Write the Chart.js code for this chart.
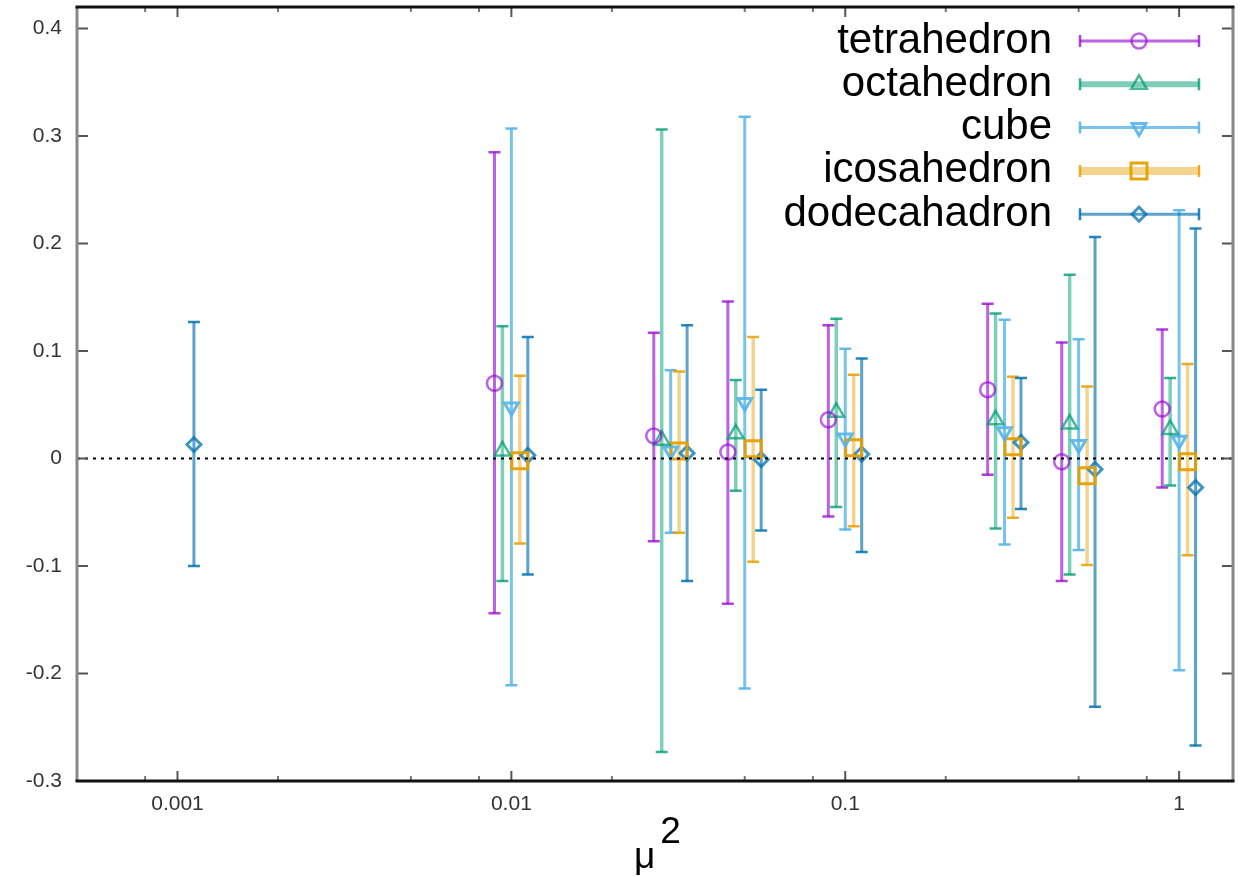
<!DOCTYPE html>
<html><head><meta charset="utf-8">
<script src="https://cdn.jsdelivr.net/npm/chart.js@4/dist/chart.umd.min.js"></script>
<style>html,body{margin:0;padding:0;background:#fff;}#wrap{width:1245px;height:877px;}</style>
</head><body><div id="wrap"><canvas id="c" width="1245" height="877"></canvas></div>
<script>
// ---------------- data ----------------
const seriesNames = ['tetrahedron', 'octahedron', 'cube', 'icosahedron', 'dodecahadron'];

const tetraX  = [0.0089, 0.0267, 0.0445, 0.089, 0.267, 0.445, 0.89];
const tetraY  = [0.070, 0.021, 0.006, 0.036, 0.064, -0.003, 0.046];
const tetraHi = [0.285, 0.117, 0.146, 0.124, 0.144, 0.108, 0.120];
const tetraLo = [-0.144, -0.077, -0.135, -0.054, -0.015, -0.114, -0.027];

const octaX  = [0.0094, 0.0282, 0.047, 0.094, 0.282, 0.47, 0.94];
const octaY  = [0.007, 0.017, 0.023, 0.043, 0.036, 0.032, 0.027];
const octaHi = [0.123, 0.306, 0.073, 0.130, 0.135, 0.171, 0.075];
const octaLo = [-0.114, -0.273, -0.030, -0.045, -0.065, -0.108, -0.025];

const cubeX  = [0.010, 0.030, 0.050, 0.100, 0.300, 0.500, 1.000];
const cubeY  = [0.048, 0.007, 0.052, 0.019, 0.025, 0.013, 0.017];
const cubeHi = [0.307, 0.082, 0.318, 0.102, 0.129, 0.111, 0.231];
const cubeLo = [-0.211, -0.069, -0.214, -0.066, -0.080, -0.085, -0.197];

const icosaX  = [0.0106, 0.0318, 0.053, 0.106, 0.318, 0.53, 1.06];
const icosaY  = [-0.002, 0.007, 0.009, 0.010, 0.011, -0.016, -0.003];
const icosaHi = [0.077, 0.081, 0.113, 0.078, 0.076, 0.067, 0.088];
const icosaLo = [-0.079, -0.069, -0.096, -0.063, -0.055, -0.099, -0.090];

const dodecaX  = [0.00112, 0.0112, 0.0336, 0.056, 0.112, 0.336, 0.56, 1.12];
const dodecaY  = [0.013, 0.003, 0.005, -0.001, 0.004, 0.015, -0.010, -0.027];
const dodecaHi = [0.127, 0.113, 0.124, 0.064, 0.093, 0.075, 0.206, 0.214];
const dodecaLo = [-0.100, -0.108, -0.114, -0.067, -0.087, -0.047, -0.231, -0.267];

const xAxisMin = 0.0005, xAxisMax = 1.45;
const yAxisMin = -0.3, yAxisMax = 0.42;
const xTickValues = [0.001, 0.01, 0.1, 1];
const xTickLabels = ['0.001', '0.01', '0.1', '1'];
const xMinorTicks = [0.0008, 0.002, 0.005, 0.008, 0.02, 0.05, 0.08, 0.2, 0.5, 0.8];
const yTickValues = [-0.3, -0.2, -0.1, 0, 0.1, 0.2, 0.3, 0.4];
const yTickLabels = ['-0.3', '-0.2', '-0.1', '0', '0.1', '0.2', '0.3', '0.4'];
const zeroLineX = [xAxisMin, xAxisMax];
const zeroLineY = [0, 0];

// ---------------- styles ----------------
const styles = [
  {ps:'circle',   r:7.5, rot:0,   mk:'rgba(148,0,211,0.62)', bar:'rgba(148,0,211,0.62)', cap:'rgba(148,0,211,0.75)', bw:3,   mw:2.5, lw:3},
  {ps:'triangle', r:9,   rot:0,   mk:'rgba(0,158,115,0.72)', bar:'rgba(0,158,115,0.5)',  cap:'rgba(0,158,115,0.8)',  bw:3.5, mw:2.5, lw:6},
  {ps:'triangle', r:8,   rot:180, mk:'rgba(86,180,233,0.9)', bar:'rgba(86,180,233,0.8)', cap:'rgba(86,180,233,0.9)', bw:3,   mw:3,   lw:3},
  {ps:'rect',     r:11.3,rot:0,   mk:'rgba(230,159,0,0.95)', bar:'rgba(230,159,0,0.45)', cap:'rgba(230,159,0,0.85)', bw:3.5, mw:3,   lw:8},
  {ps:'rectRot',  r:7,   rot:0,   mk:'rgba(0,114,178,0.75)', bar:'rgba(0,114,178,0.65)', cap:'rgba(0,114,178,0.85)', bw:3,   mw:3,   lw:3}
];

const seriesData = [
  [tetraX, tetraY, tetraHi, tetraLo],
  [octaX, octaY, octaHi, octaLo],
  [cubeX, cubeY, cubeHi, cubeLo],
  [icosaX, icosaY, icosaHi, icosaLo],
  [dodecaX, dodecaY, dodecaHi, dodecaLo]
];

const datasets = [{
  label: 'zero', type: 'line', order: -1,
  data: zeroLineX.map((x, i) => ({x, y: zeroLineY[i]})),
  borderColor: '#000', borderWidth: 2.2, borderDash: [3, 5], pointRadius: 0, fill: false
}];
seriesData.forEach((s, k) => {
  const st = styles[k];
  datasets.push({
    label: seriesNames[k], type: 'scatter',
    data: s[0].map((x, i) => ({x, y: s[1][i], yMax: s[2][i], yMin: s[3][i]})),
    pointStyle: st.ps, pointRadius: st.r, pointRotation: st.rot,
    pointBorderColor: st.mk, pointBackgroundColor: 'rgba(0,0,0,0)', pointBorderWidth: st.mw,
    borderColor: st.mk, backgroundColor: 'rgba(0,0,0,0)',
    errStyle: st
  });
});

// ---------------- plugins ----------------
const errorBars = {
  id: 'errorBars',
  beforeDatasetsDraw(chart) {
    const ctx = chart.ctx, xs = chart.scales.x, ys = chart.scales.y;
    ctx.save();
    chart.data.datasets.forEach(ds => {
      if (!ds.errStyle) return;
      const st = ds.errStyle;
      ds.data.forEach(p => {
        const px = xs.getPixelForValue(p.x);
        const t = ys.getPixelForValue(p.yMax), b = ys.getPixelForValue(p.yMin);
        ctx.strokeStyle = st.bar; ctx.lineWidth = st.bw;
        ctx.beginPath(); ctx.moveTo(px, t); ctx.lineTo(px, b); ctx.stroke();
        ctx.strokeStyle = st.cap; ctx.lineWidth = 2.5;
        ctx.beginPath();
        ctx.moveTo(px - 6, t); ctx.lineTo(px + 6, t);
        ctx.moveTo(px - 6, b); ctx.lineTo(px + 6, b);
        ctx.stroke();
      });
    });
    ctx.restore();
  }
};

const frame = {
  id: 'frame',
  afterDraw(chart) {
    const ctx = chart.ctx, a = chart.chartArea, xs = chart.scales.x, ys = chart.scales.y;
    ctx.save();
    ctx.strokeStyle = '#555'; ctx.lineWidth = 2;
    ctx.beginPath();
    yTickValues.forEach(v => {
      const py = ys.getPixelForValue(v);
      ctx.moveTo(a.left, py); ctx.lineTo(a.left + 11, py);
      ctx.moveTo(a.right, py); ctx.lineTo(a.right - 11, py);
    });
    xTickValues.forEach(v => {
      const px = xs.getPixelForValue(v);
      ctx.moveTo(px, a.bottom); ctx.lineTo(px, a.bottom - 10);
      ctx.moveTo(px, a.top); ctx.lineTo(px, a.top + 10);
    });
    ctx.stroke();
    ctx.strokeStyle = '#777'; ctx.lineWidth = 2;
    ctx.beginPath();
    xMinorTicks.forEach(v => {
      const px = xs.getPixelForValue(v);
      ctx.moveTo(px, a.bottom); ctx.lineTo(px, a.bottom - 5);
      ctx.moveTo(px, a.top); ctx.lineTo(px, a.top + 5);
    });
    ctx.stroke();
    ctx.lineWidth = 3;
    ctx.strokeStyle = '#888';
    ctx.beginPath();
    ctx.moveTo(a.left, a.top); ctx.lineTo(a.left, a.bottom);
    ctx.moveTo(a.right, a.top); ctx.lineTo(a.right, a.bottom);
    ctx.stroke();
    ctx.strokeStyle = '#111';
    ctx.beginPath();
    ctx.moveTo(a.left - 1.5, a.top); ctx.lineTo(a.right + 1.5, a.top);
    ctx.moveTo(a.left - 1.5, a.bottom); ctx.lineTo(a.right + 1.5, a.bottom);
    ctx.stroke();
    ctx.restore();
  }
};

const gpLegend = {
  id: 'gpLegend',
  afterDraw(chart) {
    const ctx = chart.ctx;
    ctx.save();
    ctx.font = '42px "Liberation Sans", Arial, sans-serif';
    ctx.textAlign = 'right'; ctx.textBaseline = 'middle';
    const x0 = 1080, x1 = 1199, xm = 1139, textRight = 1052;
    chart.data.datasets.forEach(ds => {
      if (!ds.errStyle) return;
      const k = seriesNames.indexOf(ds.label);
      const st = ds.errStyle;
      const y = 41 + k * 43.3;
      ctx.fillStyle = '#000';
      ctx.fillText(ds.label, textRight, y);
      ctx.strokeStyle = st.bar; ctx.lineWidth = st.lw;
      ctx.beginPath(); ctx.moveTo(x0, y); ctx.lineTo(x1, y); ctx.stroke();
      ctx.strokeStyle = st.cap; ctx.lineWidth = 2.5;
      ctx.beginPath();
      ctx.moveTo(x0, y - 6); ctx.lineTo(x0, y + 6);
      ctx.moveTo(x1, y - 6); ctx.lineTo(x1, y + 6);
      ctx.stroke();
      ctx.strokeStyle = st.mk; ctx.fillStyle = 'rgba(0,0,0,0)'; ctx.lineWidth = st.mw;
      Chart.helpers.drawPoint(ctx, {pointStyle: st.ps, radius: st.r, rotation: st.rot, borderWidth: st.mw}, xm, y);
    });
    ctx.restore();
  }
};

new Chart(document.getElementById('c'), {
  type: 'scatter',
  data: {datasets},
  plugins: [errorBars, frame, gpLegend],
  options: {
    responsive: false, animation: false, devicePixelRatio: 1,
    layout: {autoPadding: false, padding: {top: 7, right: 12, left: 0, bottom: 0}},
    plugins: {legend: {display: false}, tooltip: {enabled: false}},
    scales: {
      x: {
        type: 'logarithmic', min: xAxisMin, max: xAxisMax,
        grid: {display: false, drawTicks: false}, border: {display: false},
        afterBuildTicks: s => { s.ticks = xTickValues.map(v => ({value: v})); },
        afterFit: s => { s.height = 96; s.paddingLeft = 0; s.paddingRight = 0; },
        ticks: {
          autoSkip: false, maxRotation: 0, padding: 11, color: '#333',
          font: {family: '"Liberation Sans", Arial, sans-serif', size: 21},
          callback: (v) => { const i = xTickValues.findIndex(t => Math.abs(t - v) < t * 1e-6); return i >= 0 ? xTickLabels[i] : ''; }
        },
        title: {
          display: true, text: ['   2', 'μ  '], color: '#000',
          font: {family: '"Liberation Sans", Arial, sans-serif', size: 37, lineHeight: 0.667},
          padding: {top: 0, bottom: 7}
        }
      },
      y: {
        type: 'linear', min: yAxisMin, max: yAxisMax,
        grid: {display: false, drawTicks: false}, border: {display: false},
        afterBuildTicks: s => { s.ticks = yTickValues.map(v => ({value: v})); },
        afterFit: s => { s.width = 77; s.paddingTop = 0; s.paddingBottom = 0; },
        ticks: {
          padding: 15, color: '#333',
          font: {family: '"Liberation Sans", Arial, sans-serif', size: 21},
          callback: (v) => { const i = yTickValues.findIndex(t => Math.abs(t - v) < 1e-9); return i >= 0 ? yTickLabels[i] : ''; }
        }
      }
    }
  }
});
</script></body></html>
